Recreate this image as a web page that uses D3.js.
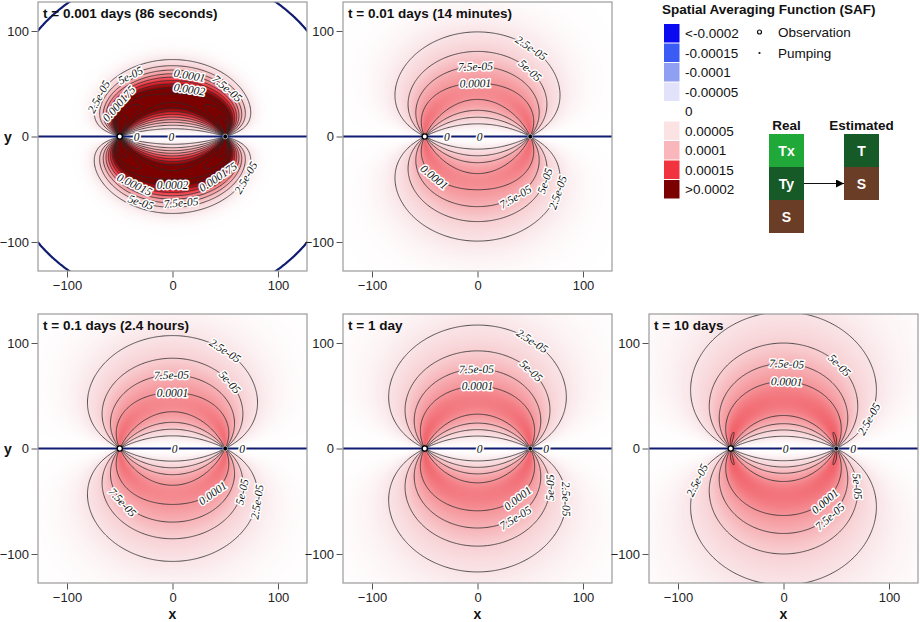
<!DOCTYPE html>
<html>
<head>
<meta charset="utf-8">
<script src="https://cdn.jsdelivr.net/npm/d3@7"></script>
<style>
  body { margin: 0; background: #fff; }
  svg text { font-family: "Liberation Sans", Arial, sans-serif; }
</style>
</head>
<body>
<svg id="chart" width="920" height="622"></svg>
<script>
// ---- data ----
const panelTitles = ["t = 0.001 days (86 seconds)", "t = 0.01 days (14 minutes)",
  "t = 0.1 days (2.4 hours)", "t = 1 day", "t = 10 days"];
// per-panel SAF shape: amplitude, reach of the confocal envelope, envelope sharpness
const panelAmp = [3.0, 1.22, 1.22, 1.26, 1.30];
const panelReach = [58.4, 94, 104.7, 118.7, 140];
const panelShape = [3.84, 2.6, 2.4, 2.28, 2.0];
const obsWell = [-50, 0];
const pumpWell = [50, 0];

const levels = [2.5e-5, 5e-5, 7.5e-5, 1e-4, 1.25e-4, 1.5e-4, 1.75e-4, 2e-4,
  2.25e-4, 2.5e-4, 2.75e-4, 3e-4, 3.25e-4, 3.5e-4];
const levelText = ["2.5e-05", "5e-05", "7.5e-05", "0.0001", "0.000125", "0.00015",
  "0.000175", "0.0002", "0.000225", "0.00025", "0.000275", "0.0003", "0.000325", "0.00035"];
const zeroFloor = 1e-24; // below this the solver returns 0 -> zero contour

const axisTicks = [-100, 0, 100];

const legendLabels = ["<-0.0002", "-0.00015", "-0.0001", "-0.00005", "0",
  "0.00005", "0.0001", "0.00015", ">0.0002"];
const legendColors = ["#0b0bf2", "#3a5cf5", "#8fa0f3", "#e2e3fa", null,
  "#fbe3e3", "#f9b7bb", "#f1323f", "#7b0000"];

// colour ramp used for the field itself
const rampStops = [-2e-4, -1.5e-4, -1e-4, -5e-5, 0, 2.5e-5, 5e-5, 1e-4, 1.5e-4, 2e-4];
const rampColors = ["#0b0bf2", "#3a5cf5", "#8fa0f3", "#e2e3fa", "#ffffff",
  "#f9e4e7", "#f8d0d3", "#f5959a", "#ee2f3b", "#7b0000"];

const realParams = ["Tx", "Ty", "S"];
const realColors = ["#20a838", "#155a27", "#6a3d26"];
const estParams = ["T", "S"];
const estColors = ["#155a27", "#6a3d26"];

// contour label spots: [level, x, y] per panel (data units)
const labelSpots = [
  [[2.5e-5, -69, 37], [5e-5, -38, 54], [1.75e-4, -47, 28], [1e-4, 16, 56], [7.5e-5, 51, 44],
   [2e-4, 16, 46], [0, -34, 0], [0, -1, 0], [1.5e-4, -34, -41], [2e-4, 0, -43],
   [1.75e-4, 41, -36], [2.5e-5, 68, -38], [5e-5, -31, -64], [7.5e-5, 8, -61]],
  [[2.5e-5, 49, 82], [5e-5, 49, 61], [7.5e-5, -2, 63], [1e-4, -2, 51], [0, -29, 0], [0, 2, 0],
   [1e-4, -41, -38], [7.5e-5, 33, -53], [5e-5, 63, -42], [2.5e-5, 75, -53]],
  [[2.5e-5, 49, 91], [5e-5, 51, 60], [7.5e-5, -1, 66], [1e-4, 0, 53], [0, 2, 0], [0, 66, 0],
   [7.5e-5, -44, -48], [1e-4, 38, -42], [5e-5, 65, -41], [2.5e-5, 77, -50]],
  [[2.5e-5, 54, 106], [5e-5, 51, 73], [7.5e-5, -1, 74], [1e-4, 0, 59], [0, 2, 0], [0, 65, 0],
   [1e-4, 38, -48], [7.5e-5, 35, -64], [5e-5, 65, -37], [2.5e-5, 83, -48]],
  [[5e-5, 54, 79], [7.5e-5, 3, 79], [1e-4, 3, 62], [2.5e-5, 80, 29], [0, 2, 0], [0, 66, 0],
   [2.5e-5, -80, -31], [1e-4, 38, -48], [7.5e-5, 41, -61], [5e-5, 70, -36]]
];

// ---- layout ----
const svg = d3.select("#chart");
const size = 269;
const half = 127.5;
const panelPos = [[38, 2], [343, 2], [38, 314], [343, 314], [649, 314]];
const N = 261, G0 = -130;

const fill = d3.scaleLinear().domain(rampStops).range(rampColors).clamp(true);

function saf(k, x, y) {
  const dxo = x - obsWell[0], dxp = x - pumpWell[0];
  const ro2 = dxo * dxo + y * y, rp2 = dxp * dxp + y * y;
  if (ro2 < 1e-9 || rp2 < 1e-9) return 0;
  const g = y * y / (ro2 * rp2);
  const a = (Math.sqrt(ro2) + Math.sqrt(rp2)) / 2;
  const hw = (pumpWell[0] - obsWell[0]) / 2;
  const b = Math.sqrt(Math.max(0, a * a - hw * hw));
  return panelAmp[k] * g * Math.exp(-Math.pow(b / panelReach[k], panelShape[k]));
}

const defs = svg.append("defs");
defs.append("marker")
  .attr("id", "arrow")
  .attr("viewBox", "0 0 10 10")
  .attr("refX", 10).attr("refY", 5)
  .attr("markerWidth", 8).attr("markerHeight", 8)
  .attr("markerUnits", "userSpaceOnUse")
  .attr("orient", "auto")
  .append("path")
  .attr("d", "M0,0L10,5L0,10Z")
  .attr("fill", "#000");

panelTitles.forEach(function(title, k) {
  const left = panelPos[k][0], top = panelPos[k][1];
  const xs = d3.scaleLinear().domain([-half, half]).range([left, left + size]);
  const ys = d3.scaleLinear().domain([-half, half]).range([top + size, top]);

  // grid of SAF values
  const values = new Float64Array(N * N);
  for (let j = 0; j < N; j++) {
    const y = -G0 - j;
    for (let i = 0; i < N; i++) values[j * N + i] = saf(k, G0 + i, y);
  }

  // heat map image
  const M = 255;
  const canvas = document.createElement("canvas");
  canvas.width = M; canvas.height = M;
  const ctx = canvas.getContext("2d");
  const img = ctx.createImageData(M, M);
  const off = Math.round(-half + 0.5 - G0);
  for (let j = 0; j < M; j++) {
    for (let i = 0; i < M; i++) {
      const c = d3.rgb(fill(values[(j + off) * N + i + off]));
      const p = (j * M + i) * 4;
      img.data[p] = c.r; img.data[p + 1] = c.g; img.data[p + 2] = c.b; img.data[p + 3] = 255;
    }
  }
  ctx.putImageData(img, 0, 0);

  const clipId = "clip" + k;
  defs.append("clipPath").attr("id", clipId)
    .append("rect").attr("x", left).attr("y", top).attr("width", size).attr("height", size);

  const g = svg.append("g");
  const plot = g.append("g").attr("clip-path", "url(#" + clipId + ")");

  plot.append("image")
    .attr("x", left).attr("y", top)
    .attr("width", size).attr("height", size)
    .attr("preserveAspectRatio", "none")
    .attr("href", canvas.toDataURL());

  const toPx = function(p) { return [xs(G0 + p[0] - 0.5), ys(-G0 - (p[1] - 0.5))]; };
  const proj = d3.geoTransform({
    point: function(px, py) { const q = toPx([px, py]); this.stream.point(q[0], q[1]); }
  });
  const path = d3.geoPath(proj);
  const contours = d3.contours().size([N, N]);

  const geoms = new Map();
  levels.forEach(function(lv) {
    const geo = contours.contour(values, lv);
    geoms.set(lv, geo);
    plot.append("path")
      .attr("d", path(geo))
      .attr("fill", "none")
      .attr("stroke", "#2b2b2b")
      .attr("stroke-width", 0.8);
  });

  const zeroGeo = contours.contour(values, zeroFloor);
  geoms.set(0, zeroGeo);
  plot.append("path")
    .attr("d", path(zeroGeo))
    .attr("fill", "none")
    .attr("stroke", "#101c70")
    .attr("stroke-width", 2.2);

  // contour labels along the lines
  labelSpots[k].forEach(function(s) {
    const geo = geoms.get(s[0]);
    const target = [xs(s[1]), ys(s[2])];
    let best = null, bestD = Infinity;
    geo.coordinates.forEach(function(poly) {
      poly.forEach(function(ring) {
        const pts = ring.map(toPx);
        pts.forEach(function(p, i) {
          if (p[0] < left + 4 || p[0] > left + size - 4 || p[1] < top + 4 || p[1] > top + size - 4) return;
          const d = (p[0] - target[0]) ** 2 + (p[1] - target[1]) ** 2;
          if (d < bestD) { bestD = d; best = { pts: pts, i: i }; }
        });
      });
    });
    if (!best) return;
    const n = best.pts.length;
    const a = best.pts[(best.i - 3 + n) % n], b = best.pts[(best.i + 3) % n];
    let ang = Math.atan2(b[1] - a[1], b[0] - a[0]) * 180 / Math.PI;
    if (s[0] === 0) ang = 0;
    if (ang > 90) ang -= 180;
    if (ang < -90) ang += 180;
    const p = best.pts[best.i];
    const lab = s[0] === 0 ? "0" : levelText[levels.indexOf(s[0])];
    g.append("text")
      .attr("transform", "translate(" + p[0] + "," + p[1] + ") rotate(" + ang + ")")
      .attr("text-anchor", "middle")
      .attr("dy", "0.35em")
      .style("font-family", "'Liberation Serif', 'DejaVu Serif', serif")
      .style("font-style", "italic")
      .style("font-size", "11.5px")
      .attr("fill", "#111")
      .attr("stroke", "#fff")
      .attr("stroke-width", 3)
      .attr("stroke-linejoin", "round")
      .attr("paint-order", "stroke")
      .text(lab);
  });

  // wells
  g.append("circle")
    .attr("cx", xs(obsWell[0])).attr("cy", ys(obsWell[1])).attr("r", 2.6)
    .attr("fill", "#fff").attr("stroke", "#000").attr("stroke-width", 1.3);
  g.append("circle")
    .attr("cx", xs(pumpWell[0])).attr("cy", ys(pumpWell[1])).attr("r", 2.4)
    .attr("fill", "#000").attr("stroke", "#fff").attr("stroke-width", 0.6);

  // frame and axes
  g.append("rect")
    .attr("x", left).attr("y", top).attr("width", size).attr("height", size)
    .attr("fill", "none").attr("stroke", "#9a9a9a").attr("stroke-width", 1.2);

  const ax = g.append("g")
    .attr("transform", "translate(0," + (top + size + 0.5) + ")")
    .call(d3.axisBottom(xs).tickValues(axisTicks).tickSize(6).tickPadding(3).tickSizeOuter(0));
  const ay = g.append("g")
    .attr("transform", "translate(" + (left - 0.5) + ",0)")
    .call(d3.axisLeft(ys).tickValues(axisTicks).tickSize(6).tickPadding(2.5).tickSizeOuter(0));
  [ax, ay].forEach(function(a) {
    a.select(".domain").remove();
    a.selectAll(".tick line").attr("stroke", "#555");
    a.selectAll(".tick text")
      .style("font-family", "'Liberation Sans', Arial, sans-serif")
      .style("font-size", "13px")
      .attr("fill", "#222");
  });

  g.append("text")
    .attr("x", left + 5).attr("y", top + 16)
    .style("font-weight", "bold").style("font-size", "13.5px")
    .attr("fill", "#111")
    .text(title);

  if (left < 100) {
    g.append("text")
      .attr("x", 4).attr("y", ys(0) + 5)
      .style("font-weight", "bold").style("font-size", "14px")
      .attr("fill", "#111").text("y");
  }
  if (top > 100) {
    g.append("text")
      .attr("x", xs(0)).attr("y", 619)
      .attr("text-anchor", "middle")
      .style("font-weight", "bold").style("font-size", "14px")
      .attr("fill", "#111").text("x");
  }
});

// ---- legend ----
const leg = svg.append("g");
leg.append("text")
  .attr("x", 662).attr("y", 14)
  .style("font-weight", "bold").style("font-size", "13.5px")
  .attr("fill", "#111")
  .text("Spatial Averaging Function (SAF)");

legendLabels.forEach(function(lab, i) {
  const top = 24 + i * 19.5;
  if (legendColors[i]) {
    leg.append("rect")
      .attr("x", 664).attr("y", top)
      .attr("width", 15.5).attr("height", 18.5)
      .attr("fill", legendColors[i]);
  }
  leg.append("text")
    .attr("x", 685).attr("y", top + 14)
    .style("font-size", "13.5px")
    .attr("fill", "#111")
    .text(lab);
});

leg.append("circle").attr("cx", 759.5).attr("cy", 32).attr("r", 2)
  .attr("fill", "#fff").attr("stroke", "#111").attr("stroke-width", 1.2);
leg.append("text").attr("x", 778).attr("y", 37)
  .style("font-size", "13.5px").attr("fill", "#111").text("Observation");
leg.append("circle").attr("cx", 759.5).attr("cy", 53).attr("r", 1.1).attr("fill", "#111");
leg.append("text").attr("x", 778).attr("y", 58)
  .style("font-size", "13.5px").attr("fill", "#111").text("Pumping");

function paramColumn(x0, head, names, colors) {
  leg.append("text")
    .attr("x", x0 + 17.5).attr("y", 130)
    .attr("text-anchor", "middle")
    .style("font-weight", "bold").style("font-size", "13.5px")
    .attr("fill", "#111").text(head);
  names.forEach(function(nm, i) {
    const top = 134 + i * 33;
    leg.append("rect")
      .attr("x", x0).attr("y", top).attr("width", 35).attr("height", 33)
      .attr("fill", colors[i]);
    leg.append("text")
      .attr("x", x0 + 17.5).attr("y", top + 21.5)
      .attr("text-anchor", "middle")
      .style("font-weight", "bold").style("font-size", "14px")
      .attr("fill", "#fff").text(nm);
  });
}
paramColumn(769, "Real", realParams, realColors);
paramColumn(844, "Estimated", estParams, estColors);

leg.append("line")
  .attr("x1", 804).attr("y1", 183.5).attr("x2", 844).attr("y2", 183.5)
  .attr("stroke", "#111").attr("stroke-width", 1.2)
  .attr("marker-end", "url(#arrow)");
</script>
</body>
</html>
